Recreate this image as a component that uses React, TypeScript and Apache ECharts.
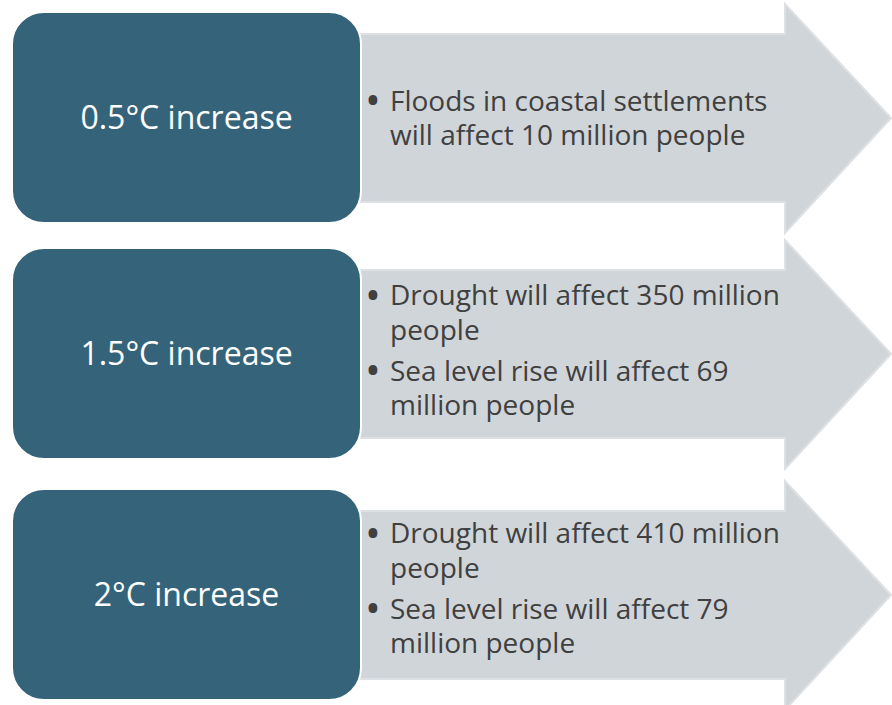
import React, { useEffect, useRef } from "react";
import * as echarts from "echarts";

// Data
const levels: string[] = ["0.5°C increase", "1.5°C increase", "2°C increase"];
const impacts: string[][][] = [
  [["Floods in coastal settlements", "will affect 10 million people"]],
  [
    ["Drought will affect 350 million", "people"],
    ["Sea level rise will affect 69", "million people"],
  ],
  [
    ["Drought will affect 410 million", "people"],
    ["Sea level rise will affect 79", "million people"],
  ],
];

const BOX_COLOR = "#35647A";
const ARROW_COLOR = "#D0D5D9";
const ARROW_BORDER = "#DDE1E4";
const TEXT_COLOR = "#404040";
const FONT = "'Open Sans', 'Noto Sans', sans-serif";

function buildGraphics() {
  const els: any[] = [];
  const tops = [12, 248, 489];
  const textShift = [0, 0, -3];
  const boxW = 349;
  const boxH = 211;
  const boxX = 12;
  const headX = 785;
  const tipX = 891;
  const lineGap = 34.5;
  const paraGap = 6.5;
  const fs = 28;

  levels.forEach((label, i) => {
    const top = tops[i];
    const bt = top + 22;
    const bb = top + 190;
    const ht = top - 8;
    const hb = top + 221;
    const mid = (bt + bb) / 2;
    els.push({
      type: "polygon",
      shape: {
        points: [
          [355, bt],
          [headX, bt],
          [headX, ht],
          [tipX, mid],
          [headX, hb],
          [headX, bb],
          [355, bb],
        ],
      },
      style: { fill: ARROW_COLOR, stroke: ARROW_BORDER, lineWidth: 2 },
      z: 1,
    });
    els.push({
      type: "rect",
      shape: { x: boxX, y: top, width: boxW, height: boxH, r: 32 },
      style: { fill: BOX_COLOR, stroke: "#ffffff", lineWidth: 2 },
      z: 2,
    });
    els.push({
      type: "text",
      x: boxX + boxW / 2,
      y: top + boxH / 2 - 1,
      style: {
        text: label,
        fill: "#ffffff",
        fontSize: 32,
        fontFamily: FONT,
        align: "center",
        verticalAlign: "middle",
        textAlign: "center",
        textVerticalAlign: "middle",
      },
      z: 3,
    });
    const bullets = impacts[i];
    const nLines = bullets.reduce((s, b) => s + b.length, 0);
    const blockH = (nLines - 1) * lineGap + (bullets.length - 1) * paraGap;
    let y = mid - blockH / 2 - 1 - 4 * (bullets.length - 1) + textShift[i];
    bullets.forEach((lines, bi) => {
      if (bi > 0) y += paraGap;
      lines.forEach((ln, li) => {
        if (li === 0) {
          els.push({
            type: "text",
            x: 373,
            y: y - 1,
            style: {
              text: "•",
              fill: TEXT_COLOR,
              fontSize: 42,
              fontFamily: FONT,
              align: "center",
              verticalAlign: "middle",
              textAlign: "center",
              textVerticalAlign: "middle",
            },
            z: 3,
          });
        }
        els.push({
          type: "text",
          x: 390,
          y: y,
          style: {
            text: ln,
            fill: TEXT_COLOR,
            fontSize: fs,
            fontFamily: FONT,
            align: "left",
            verticalAlign: "middle",
            textAlign: "left",
            textVerticalAlign: "middle",
          },
          z: 3,
        });
        y += lineGap;
      });
    });
  });
  return els;
}

export default function App() {
  const ref = useRef<HTMLDivElement>(null);
  useEffect(() => {
    if (!ref.current) return;
    const chart = echarts.init(ref.current, undefined, { renderer: "svg" });
    chart.setOption({
      animation: false,
      backgroundColor: "#ffffff",
      graphic: { elements: buildGraphics() },
    });
    return () => chart.dispose();
  }, []);
  return (
    <div
      ref={ref}
      style={{ position: "fixed", left: 0, top: 0, width: 892, height: 705, background: "#fff" }}
    />
  );
}
